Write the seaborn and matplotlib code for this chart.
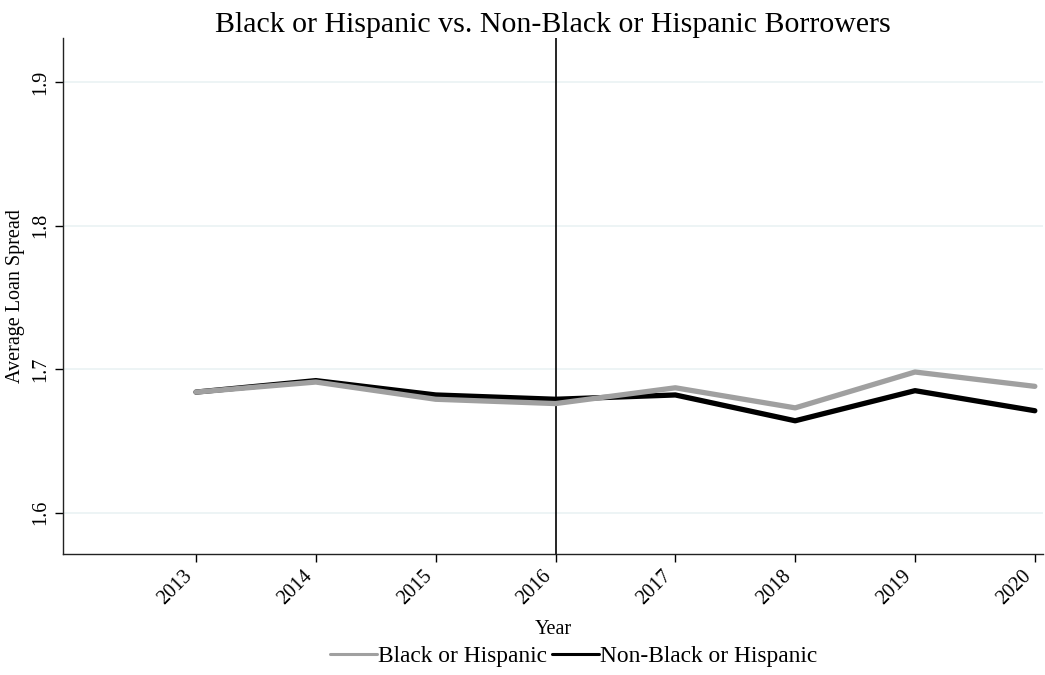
import pandas as pd
import matplotlib
matplotlib.use("Agg")
import matplotlib.pyplot as plt
import seaborn as sns

years = [2013, 2014, 2015, 2016, 2017, 2018, 2019, 2020]
black_hisp = [1.684, 1.691, 1.679, 1.676, 1.687, 1.673, 1.698, 1.688]
non_black_hisp = [1.684, 1.692, 1.682, 1.679, 1.682, 1.664, 1.685, 1.671]
labels = ["Black or Hispanic", "Non-Black or Hispanic"]

# black series first so the gray one ends up drawn on top
df = pd.DataFrame({
    "Year": years * 2,
    "spread": non_black_hisp + black_hisp,
    "group": [labels[1]] * len(years) + [labels[0]] * len(years),
})

sns.set_style("white")
plt.rcParams["font.family"] = ["Liberation Serif", "DejaVu Serif"]
plt.rcParams["text.color"] = "black"
plt.rcParams["axes.labelcolor"] = "black"
plt.rcParams["xtick.color"] = "black"
plt.rcParams["ytick.color"] = "black"

fig = plt.figure(figsize=(10.45, 6.75), dpi=100)
ax = fig.add_axes([0.0603, 0.179, 0.938, 0.765])

# gridlines first so the lines sit on top
for yv in [1.6, 1.7, 1.8, 1.9]:
    ax.axhline(yv, color="#eaf2f3", lw=1.2, zorder=0)

sns.lineplot(data=df, x="Year", y="spread", hue="group",
             palette={labels[0]: "#a0a0a0", labels[1]: "#000000"},
             linewidth=3.8, ax=ax, legend=False)
ax.axvline(2016, color="black", lw=1.2, zorder=1)

ax.set_xlim(2011.89, 2020.07)
ax.set_ylim(1.571, 1.931)
ax.set_xticks(years)
ax.set_xticklabels([str(y) for y in years], rotation=45, ha="right",
                   va="top", rotation_mode="default", fontsize=14.5)
ax.set_yticks([1.6, 1.7, 1.8, 1.9])
ax.set_yticklabels(["1.6", "1.7", "1.8", "1.9"], rotation=90, va="center",
                   fontsize=14.5)
ax.tick_params(axis="both", direction="out", length=6, width=1,
               left=True, bottom=True)
ax.tick_params(axis="x", pad=3)
ax.set_xlabel("Year", fontsize=14.5, labelpad=8)
ax.set_ylabel("Average Loan Spread", fontsize=14.5, labelpad=4)
ax.set_title("Black or Hispanic vs. Non-Black or Hispanic Borrowers",
             fontsize=21.5, pad=4)
for s in ["top", "right"]:
    ax.spines[s].set_visible(False)
for s in ["left", "bottom"]:
    ax.spines[s].set_color("#222222")
    ax.spines[s].set_linewidth(1)

handles = [plt.Line2D([], [], color="#a0a0a0", lw=2.2),
           plt.Line2D([], [], color="#000000", lw=2.2)]
fig.legend(handles, labels, loc="center", bbox_to_anchor=(0.549, 0.027),
           ncol=2, frameon=False, fontsize=16.8, handlelength=2.0,
           handletextpad=0.05, columnspacing=0.2)

fig.savefig("out.png", dpi=100)
